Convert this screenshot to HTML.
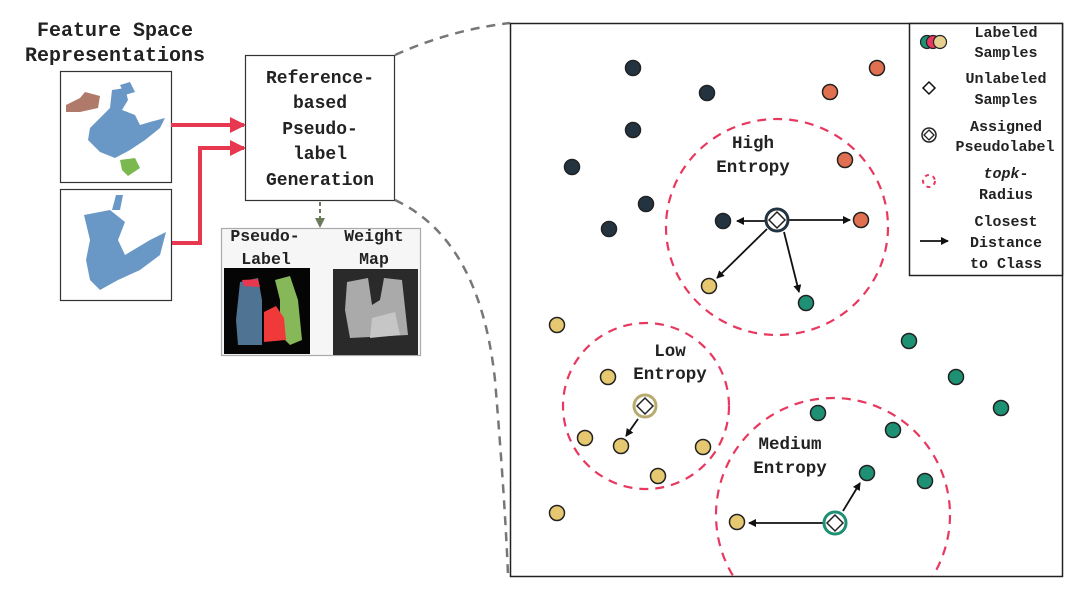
<!DOCTYPE html>
<html><head><meta charset="utf-8"><style>
html,body{margin:0;padding:0;background:#fff;width:1079px;height:599px;overflow:hidden;}
svg{display:block;position:absolute;left:0;top:0;}
text{font-family:"Liberation Mono",monospace;font-weight:bold;fill:#222;}
</style></head><body>
<svg width="1079" height="599" viewBox="0 0 1079 599" xmlns="http://www.w3.org/2000/svg">
<defs>
<marker id="ah" markerWidth="8" markerHeight="8" refX="7" refY="4" orient="auto" markerUnits="userSpaceOnUse"><path d="M0,0 L8,4 L0,8 Z" fill="#111"/></marker>
<marker id="rh" markerWidth="16" markerHeight="16" refX="14" refY="8" orient="auto" markerUnits="userSpaceOnUse"><path d="M0,0 L16,8 L0,16 Z" fill="#e8384f"/></marker>
<marker id="gh" markerWidth="10" markerHeight="10" refX="8" refY="5" orient="auto" markerUnits="userSpaceOnUse"><path d="M0,0 L10,5 L0,10 Z" fill="#6a7a5a"/></marker>
<clipPath id="mb"><rect x="511" y="24" width="551" height="552"/></clipPath>
</defs>

<text x="115" y="36" font-size="20" text-anchor="middle">Feature Space</text>
<text x="115" y="61" font-size="20" text-anchor="middle">Representations</text>

<rect x="60.5" y="71.5" width="111" height="111" fill="#fff" stroke="#333" stroke-width="1.2"/>
<g fill="#5a8dc0" opacity="0.9">
<path d="M112,90 L125,88 L128,100 L122,110 L135,115 L140,125 L150,122 L165,118 L160,128 L145,140 L130,150 L115,158 L100,152 L88,140 L90,128 L100,118 L110,108 Z"/>
<path d="M120,85 L130,82 L135,92 L125,95 Z"/>
</g>
<path d="M66,105 L80,98 L85,92 L100,96 L98,108 L80,112 L66,112 Z" fill="#b07a6a"/>
<path d="M120,160 L135,158 L140,168 L128,176 L122,170 Z" fill="#7ab850"/>
<rect x="60.5" y="189.5" width="111" height="111" fill="#fff" stroke="#333" stroke-width="1.2"/>
<g fill="#5a8dc0" opacity="0.9">
<path d="M84,215 L110,210 L125,222 L118,240 L125,255 L150,240 L166,232 L160,255 L140,270 L118,280 L100,290 L90,280 L86,260 L90,240 Z"/>
<path d="M116,195 L123,195 L120,210 L112,210 Z"/>
</g>

<line x1="171" y1="125" x2="244" y2="125" stroke="#e8384f" stroke-width="4" marker-end="url(#rh)"/>
<polyline points="172,243 200,243 200,148 244,148" fill="none" stroke="#e8384f" stroke-width="4" marker-end="url(#rh)"/>

<rect x="245.5" y="55.5" width="149" height="145" fill="#fff" stroke="#333" stroke-width="1.2"/>
<g font-size="18" text-anchor="middle">
<text x="320" y="83">Reference-</text>
<text x="320" y="108">based</text>
<text x="320" y="134">Pseudo-</text>
<text x="320" y="159">label</text>
<text x="320" y="185">Generation</text>
</g>
<line x1="320" y1="202" x2="320" y2="226" stroke="#6a7a5a" stroke-width="2" stroke-dasharray="4,3" marker-end="url(#gh)"/>

<rect x="221.5" y="228.5" width="199" height="127" fill="#f6f6f6" stroke="#aaa" stroke-width="1.2"/>
<g font-size="16.5" text-anchor="middle">
<text x="265" y="241">Pseudo-</text>
<text x="266" y="264">Label</text>
<text x="374" y="241">Weight</text>
<text x="374" y="264">Map</text>
</g>
<rect x="224" y="268" width="86" height="86" fill="#050505"/>
<path d="M240,282 L258,278 L262,300 L262,345 L238,345 L236,320 Z" fill="#4f7392"/>
<path d="M242,280 L258,279 L260,287 L244,286 Z" fill="#e8384f"/>
<path d="M275,280 L290,276 L298,300 L302,340 L290,345 L280,335 L280,300 Z" fill="#86b85a"/>
<path d="M264,312 L276,306 L284,318 L286,340 L264,342 Z" fill="#f03a3a"/>
<rect x="333" y="269" width="85" height="86" fill="#2a2a2a"/>
<path d="M347,282 L368,278 L372,305 L380,300 L384,278 L402,280 L408,335 L350,338 L345,310 Z" fill="#aaa"/>
<path d="M372,318 L395,312 L400,335 L370,338 Z" fill="#c6c6c6"/>

<path d="M395,55 Q450,30 510,23" fill="none" stroke="#777" stroke-width="2.5" stroke-dasharray="9,7"/>
<path d="M395,200 Q480,240 495,380 Q505,500 508,575" fill="none" stroke="#777" stroke-width="2.5" stroke-dasharray="9,7"/>

<rect x="510.5" y="23.5" width="552" height="553" fill="#fff" stroke="#222" stroke-width="1.5"/>

<g fill="none" stroke="#e8385f" stroke-width="2.2" stroke-dasharray="9,7" clip-path="url(#mb)">
<ellipse cx="777" cy="227" rx="111" ry="108"/>
<circle cx="646" cy="406" r="83"/>
<circle cx="833" cy="515" r="117"/>
</g>

<g font-size="17.5" text-anchor="middle">
<text x="753" y="148">High</text>
<text x="753" y="172">Entropy</text>
<text x="670" y="356">Low</text>
<text x="670" y="379">Entropy</text>
<text x="790" y="449">Medium</text>
<text x="790" y="473">Entropy</text>
</g>

<g stroke="#222" stroke-width="1.5">
<g fill="#233340">
<circle cx="633" cy="68" r="7.5"/><circle cx="707" cy="93" r="7.5"/><circle cx="633" cy="130" r="7.5"/>
<circle cx="572" cy="167" r="7.5"/><circle cx="646" cy="204" r="7.5"/><circle cx="609" cy="229" r="7.5"/><circle cx="723" cy="221" r="7.5"/>
</g>
<g fill="#e0704f">
<circle cx="877" cy="68" r="7.5"/><circle cx="830" cy="92" r="7.5"/><circle cx="845" cy="160" r="7.5"/><circle cx="861" cy="220" r="7.5"/>
</g>
<g fill="#e6c870">
<circle cx="557" cy="325" r="7.5"/><circle cx="709" cy="286" r="7.5"/><circle cx="608" cy="377" r="7.5"/><circle cx="585" cy="438" r="7.5"/>
<circle cx="621" cy="446" r="7.5"/><circle cx="703" cy="447" r="7.5"/><circle cx="658" cy="476" r="7.5"/><circle cx="557" cy="513" r="7.5"/><circle cx="737" cy="522" r="7.5"/>
</g>
<g fill="#1e9074">
<circle cx="806" cy="303" r="7.5"/><circle cx="909" cy="341" r="7.5"/><circle cx="956" cy="377" r="7.5"/><circle cx="1001" cy="408" r="7.5"/>
<circle cx="818" cy="413" r="7.5"/><circle cx="893" cy="430" r="7.5"/><circle cx="867" cy="473" r="7.5"/><circle cx="925" cy="481" r="7.5"/>
</g>
</g>

<g stroke="#111" stroke-width="1.8" marker-end="url(#ah)">
<line x1="766" y1="221" x2="737" y2="221"/>
<line x1="789" y1="220" x2="850" y2="220"/>
<line x1="767" y1="229" x2="717" y2="278"/>
<line x1="784" y1="232" x2="799" y2="292"/>
<line x1="638" y1="419" x2="626" y2="436"/>
<line x1="823" y1="523" x2="749" y2="523"/>
<line x1="843" y1="511" x2="860" y2="483"/>
</g>

<g stroke-width="3">
<circle cx="777" cy="220" r="11" fill="#fff" stroke="#233340"/>
<circle cx="645" cy="406" r="11" fill="#fff" stroke="#b8ab70"/>
<circle cx="835" cy="523" r="11" fill="#fff" stroke="#1e9074"/>
</g>
<g fill="#fff" stroke="#222" stroke-width="1.5">
<path d="M777,212 L785,220 L777,228 L769,220 Z"/>
<path d="M645,398 L653,406 L645,414 L637,406 Z"/>
<path d="M835,515 L843,523 L835,531 L827,523 Z"/>
</g>

<rect x="909.5" y="23.5" width="153" height="252" fill="#fff" stroke="#222" stroke-width="1.5"/>
<g stroke="#222" stroke-width="1.2">
<circle cx="927" cy="42" r="6.5" fill="#1e9074"/>
<circle cx="933" cy="42" r="6.5" fill="#e8385f"/>
<circle cx="940" cy="42" r="6.5" fill="#e6d090"/>
</g>
<path d="M929,82 L935,88 L929,94 L923,88 Z" fill="#fff" stroke="#111" stroke-width="1.5"/>
<circle cx="929" cy="135" r="7" fill="#fff" stroke="#222" stroke-width="1.5"/>
<path d="M929,130 L934,135 L929,140 L924,135 Z" fill="#fff" stroke="#222" stroke-width="1.3"/>
<circle cx="929" cy="181" r="6" fill="none" stroke="#e8385f" stroke-width="2" stroke-dasharray="4,4"/>
<line x1="920" y1="241" x2="948" y2="241" stroke="#111" stroke-width="1.8" marker-end="url(#ah)"/>
<g font-size="15" text-anchor="middle">
<text x="1006" y="37">Labeled</text>
<text x="1006" y="57">Samples</text>
<text x="1006" y="83">Unlabeled</text>
<text x="1006" y="104">Samples</text>
<text x="1006" y="131">Assigned</text>
<text x="1005" y="151">Pseudolabel</text>
<text x="1006" y="178" font-style="italic">topk-</text>
<text x="1006" y="199">Radius</text>
<text x="1006" y="226">Closest</text>
<text x="1006" y="247">Distance</text>
<text x="1006" y="268">to Class</text>
</g>
</svg>
</body></html>
